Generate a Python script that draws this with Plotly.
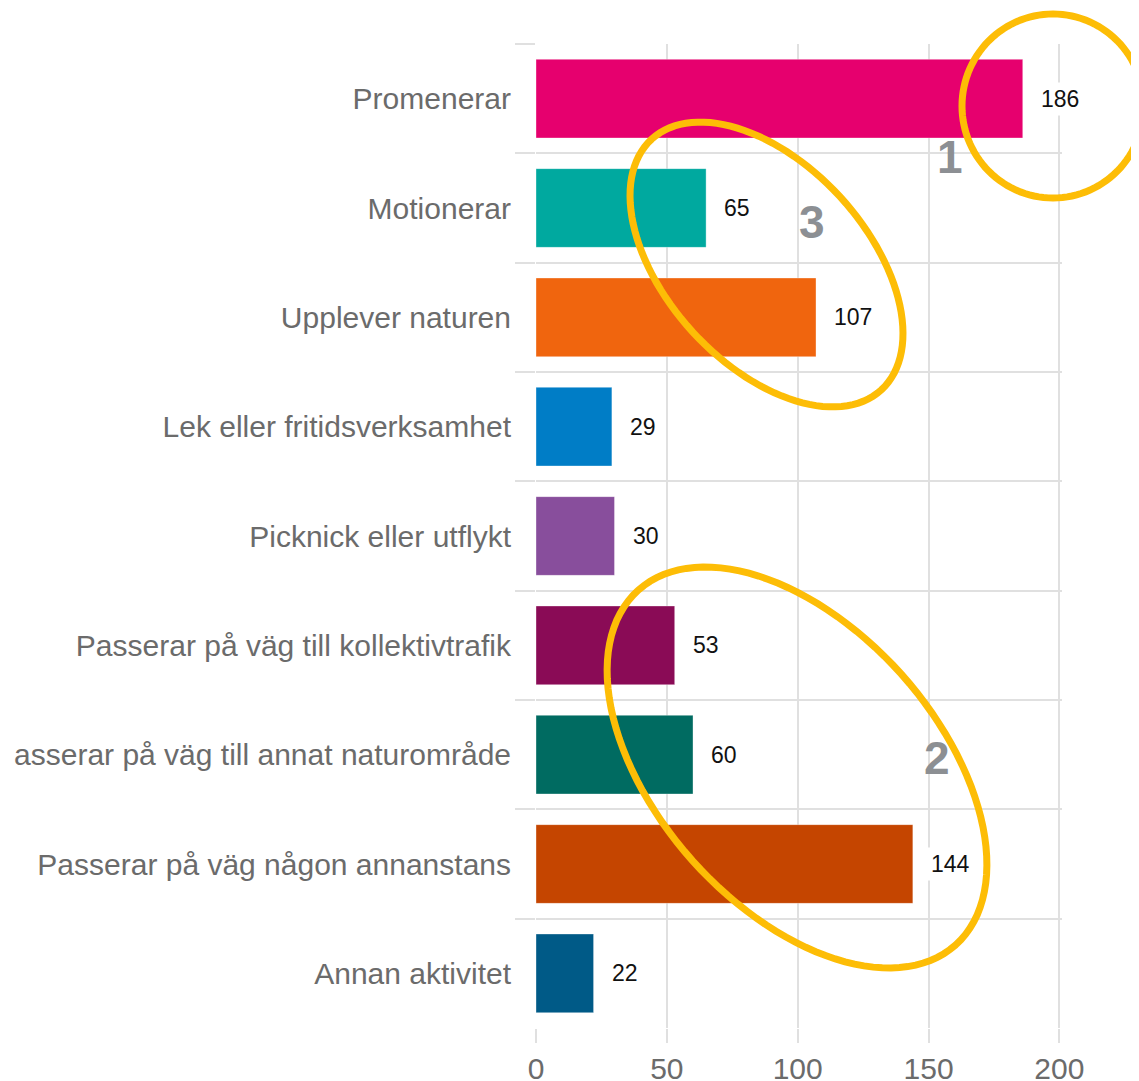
import math
import plotly.graph_objects as go

# data
categories = [
    "Promenerar",
    "Motionerar",
    "Upplever naturen",
    "Lek eller fritidsverksamhet",
    "Picknick eller utflykt",
    "Passerar på väg till kollektivtrafik",
    "asserar på väg till annat naturområde",
    "Passerar på väg någon annanstans",
    "Annan aktivitet",
]
values = [186, 65, 107, 29, 30, 53, 60, 144, 22]
colors = ["#E6006E", "#00A99F", "#F0650E", "#007DC6", "#884E9C",
          "#8A0B56", "#006B61", "#C54500", "#005A87"]
tick_vals = [0, 50, 100, 150, 200]

# layout in pixels (page has an 8px body margin)
OFF = 8
W, H = 1139, 1081 - OFF
ML, MT = 536 - OFF, 44 - OFF
MR, MB = W - (1062 - OFF), H - (1028 - OFF)
PW, PH = W - ML - MR, H - MT - MB

fig = go.Figure(go.Bar(
    x=values,
    y=categories,
    orientation="h",
    marker=dict(color=colors, line=dict(color="rgba(255,255,255,0.35)", width=1)),
    width=0.72,
    hoverinfo="x+y",
))

# value labels with white background
for c, v in zip(categories, values):
    fig.add_annotation(
        x=v, y=c, xref="x", yref="y", text=str(v), showarrow=False,
        xanchor="left", xshift=14, bgcolor="white", borderpad=3,
        font=dict(size=23, color="#111111", family="Liberation Sans, Arial, sans-serif"),
    )


def ellipse_path(cx, cy, a, b, theta_deg, n=120):
    # cx, cy, a, b in page pixels; returns path in paper coords
    cx, cy = cx - OFF, cy - OFF
    t = math.radians(theta_deg)
    pts = []
    for i in range(n + 1):
        s = 2 * math.pi * i / n
        px = cx + a * math.cos(s) * math.cos(t) - b * math.sin(s) * math.sin(t)
        py = cy + a * math.cos(s) * math.sin(t) + b * math.sin(s) * math.cos(t)
        pts.append(((px - ML) / PW, 1 - (py - MT) / PH))
    return "M " + " L ".join(f"{x:.5f},{y:.5f}" for x, y in pts) + " Z"


marks = [
    (1053, 106, 91, 92, 0),
    (766.5, 264.5, 170, 100, 47.5),
    (797, 767.5, 238, 140, 48.2),
]
for cx, cy, a, b, th in marks:
    fig.add_shape(type="path", path=ellipse_path(cx, cy, a, b, th),
                  xref="paper", yref="paper", line=dict(color="#FDBD06", width=7),
                  layer="above")

numbers = [("1", 950, 157), ("3", 812, 222), ("2", 937, 758)]
for txt, px, py in numbers:
    fig.add_annotation(
        x=(px - OFF - ML) / PW, y=1 - (py - OFF - MT) / PH, xref="paper", yref="paper",
        text=f"<b>{txt}</b>", showarrow=False, xanchor="center", yanchor="middle",
        font=dict(size=46, color="#8C8F93", family="Liberation Sans, Arial, sans-serif"),
    )

fig.update_layout(
    width=W, height=H,
    margin=dict(l=ML, r=MR, t=MT, b=MB, autoexpand=False),
    plot_bgcolor="white",
    paper_bgcolor="white",
    showlegend=False,
    font=dict(family="Liberation Sans, Arial, sans-serif", size=30, color="#6B6B6B"),
)

fig.update_xaxes(
    range=[0, 201],
    tickvals=tick_vals,
    showgrid=True, gridcolor="#E0E0E0", gridwidth=1.5,
    zeroline=False, showline=False,
    ticks="outside", ticklen=14, tickcolor="#E0E0E0", tickwidth=1.5,
    tickfont=dict(size=30, color="#6B6B6B"),
)
fig.update_yaxes(
    type="category",
    categoryorder="array", categoryarray=categories,
    autorange="reversed",
    tickson="boundaries",
    showgrid=True, gridcolor="#E0E0E0", gridwidth=1.5,
    zeroline=False, showline=False,
    ticks="outside", ticklen=20, tickcolor="#E0E0E0", tickwidth=1.5,
    ticklabelstandoff=24,
    tickfont=dict(size=30, color="#6B6B6B"),
)

fig.write_html("out.html")
